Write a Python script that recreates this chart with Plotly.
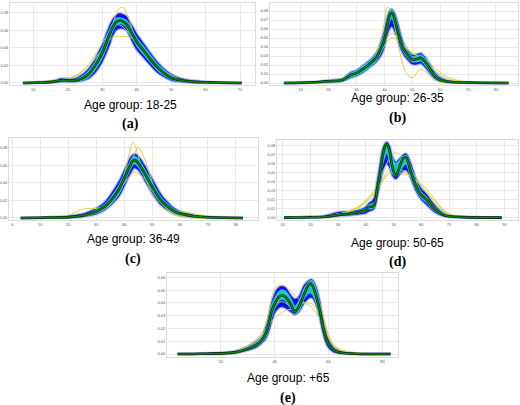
import plotly.graph_objects as go

# ---------------- data ----------------
# Panel (a) Age group 18-25
A_X = [7, 12, 16, 18, 20, 22, 24, 26, 28, 30, 32, 33, 34, 35, 36, 37, 38, 39, 40, 42, 44, 46, 48, 50, 53, 56, 60, 65, 70.5]
A_MEAN = [0, .0005, .0015, .003, .003, .003, .005, .010, .020, .034, .054, .063, .069, .071, .070, .067, .061, .054, .047, .037, .027, .018, .011, .006, .003, .0015, .0008, .0003, 0]
A_CYAN_LO = [0, .0003, .001, .002, .002, .002, .0035, .007, .016, .029, .049, .059, .066, .068, .067, .064, .057, .050, .043, .033, .024, .015, .009, .0045, .002, .001, .0005, .0002, 0]
A_CYAN_HI = [0, .0007, .002, .004, .004, .004, .007, .013, .024, .039, .059, .067, .073, .074, .073, .071, .065, .058, .051, .041, .031, .021, .014, .008, .004, .002, .0011, .0004, 0]
A_BLUE_LO = [0, .0002, .0007, .0015, .0015, .0015, .0025, .005, .012, .024, .042, .053, .060, .062, .062, .060, .053, .045, .038, .029, .020, .012, .007, .003, .0013, .0006, .0003, .0001, 0]
A_BLUE_HI = [0, .001, .0025, .005, .005, .005, .009, .016, .028, .044, .064, .072, .077, .079, .078, .076, .070, .063, .056, .045, .034, .024, .016, .010, .005, .0027, .0014, .0006, 0]
A_Y1 = [0, 0, .001, .002, .002, .003, .005, .009, .017, .030, .052, .066, .078, .085, .086, .080, .070, .058, .048, .034, .024, .016, .010, .006, .003, .001, .0005, 0, 0]
A_Y2 = [0, .001, .002, .003, .004, .007, .012, .019, .028, .038, .048, .052, .053, .053, .053, .053, .052, .050, .047, .039, .030, .021, .014, .009, .004, .002, .001, .0005, 0]
A_Y3 = [0, .001, .003, .004, .005, .008, .013, .021, .032, .045, .058, .063, .066, .066, .064, .060, .055, .050, .045, .036, .028, .020, .013, .008, .004, .002, .001, .0004, 0]

# Panel (b) Age group 26-35
B_X = [4, 10, 15, 20, 25, 28, 30, 33, 35, 37, 39, 40, 41, 42, 42.5, 43, 44, 45, 46, 47, 48, 50, 52, 53, 55, 57, 58, 60, 63, 70, 84.5]
B_MEAN = [0, .0003, .0008, .002, .0035, .009, .011, .017, .022, .028, .040, .048, .064, .076, .078, .077, .067, .055, .044, .037, .033, .026, .027, .028, .022, .0125, .008, .0035, .0015, .0005, 0]
B_CYAN_LO = [0, .0002, .0006, .0015, .0025, .007, .009, .014, .019, .025, .036, .044, .059, .070, .072, .071, .062, .051, .041, .034, .030, .024, .024, .025, .019, .010, .0065, .0028, .0011, .0003, 0]
B_CYAN_HI = [0, .0004, .001, .0025, .0045, .011, .013, .020, .025, .031, .044, .053, .069, .080, .081, .080, .072, .060, .048, .040, .036, .029, .030, .031, .025, .015, .010, .0045, .002, .0007, 0]
B_BLUE_LO = [0, .0001, .0005, .001, .002, .006, .008, .013, .018, .023, .032, .040, .053, .061, .063, .062, .055, .046, .037, .031, .027, .021, .021, .022, .016, .008, .005, .002, .001, .0002, 0]
B_BLUE_HI = [0, .0006, .0012, .003, .005, .012, .014, .021, .026, .033, .048, .058, .073, .081, .082, .081, .075, .064, .052, .043, .038, .031, .032, .033, .027, .017, .012, .006, .0025, .0008, 0]
B_Y1 = [0, 0, .0005, .002, .004, .008, .011, .018, .024, .032, .052, .068, .084, .082, .078, .072, .058, .042, .028, .017, .010, .006, .013, .0155, .012, .005, .003, .001, 0, 0, 0]
B_Y2 = [0, .0005, .001, .003, .005, .009, .012, .018, .023, .030, .040, .045, .050, .054, .055, .055, .053, .050, .046, .042, .039, .034, .030, .028, .023, .017, .014, .009, .004, .001, 0]
B_Y3 = [0, .0003, .001, .003, .005, .009, .011, .017, .021, .027, .036, .041, .046, .049, .050, .050, .049, .047, .044, .041, .038, .033, .030, .029, .026, .020, .017, .012, .006, .001, 0]

# Panel (c) Age group 36-49
C_X = [3, 10, 15, 20, 25, 28, 30, 33, 35, 38, 40, 42, 43, 43.5, 44, 45, 47, 50, 53, 55, 58, 60, 63, 65, 70, 82.5]
C_MEAN = [0, .0003, .0006, .001, .0027, .005, .0076, .013, .019, .032, .045, .059, .065, .066, .066, .063, .053, .036, .021, .0145, .0076, .005, .003, .002, .0008, 0]
C_CYAN_LO = [0, .0002, .0004, .0007, .002, .004, .006, .011, .016, .028, .041, .055, .061, .062, .062, .059, .049, .032, .018, .012, .006, .0038, .0022, .0014, .0005, 0]
C_CYAN_HI = [0, .0004, .0008, .0013, .0034, .006, .0092, .015, .022, .036, .049, .063, .069, .070, .070, .067, .057, .040, .024, .017, .0092, .0062, .0038, .0026, .0011, 0]
C_BLUE_LO = [0, .0001, .0003, .0005, .0015, .003, .0045, .009, .014, .024, .036, .049, .055, .057, .057, .055, .045, .028, .015, .010, .0045, .0028, .0015, .001, .0003, 0]
C_BLUE_HI = [0, .0005, .001, .002, .0045, .008, .011, .018, .026, .041, .054, .068, .072, .073, .073, .071, .062, .045, .028, .020, .011, .0075, .0048, .0032, .0014, 0]
C_Y1 = [0, 0, 0, .0005, .002, .004, .006, .011, .017, .032, .050, .075, .086, .085, .082, .072, .050, .028, .014, .009, .004, .002, .001, 0, 0, 0]
C_Y2 = [0, 0, .0003, .001, .002, .004, .006, .010, .015, .027, .040, .058, .068, .072, .076, .081, .070, .042, .019, .011, .005, .003, .0015, .001, 0, 0]
C_Y3 = [0, .0005, .001, .003, .010, .011, .011, .014, .019, .030, .039, .048, .051, .052, .052, .051, .046, .035, .023, .016, .009, .007, .006, .005, .001, 0]

# Panel (d) Age group 50-65
D_X = [10.5, 15, 20, 25, 30, 35, 38, 40, 41, 42, 43, 44, 45, 46, 47, 47.5, 48.5, 49.5, 50.8, 52, 53.5, 54.5, 56, 58, 60, 62, 64, 66, 68, 70, 75, 89]
D_MEAN = [0, .0002, .0004, .001, .003, .0048, .0067, .0085, .012, .012, .014, .031, .047, .068, .080, .082, .075, .057, .046, .055, .066, .067, .053, .036, .025, .0196, .012, .0067, .003, .0015, .0006, 0]
D_CYAN_LO = [0, .0001, .0003, .0008, .0025, .004, .0058, .0075, .010, .010, .012, .027, .042, .060, .070, .074, .064, .050, .046, .050, .058, .060, .048, .033, .022, .017, .010, .0055, .0025, .0012, .0005, 0]
D_CYAN_HI = [0, .0003, .0006, .0014, .004, .006, .008, .010, .014, .015, .017, .035, .052, .074, .082, .083, .078, .066, .060, .063, .068, .069, .058, .040, .028, .022, .014, .008, .004, .002, .0008, 0]
D_BLUE_LO = [0, .0001, .0002, .0005, .002, .003, .004, .005, .007, .008, .010, .022, .036, .050, .058, .060, .056, .047, .043, .047, .052, .053, .045, .030, .020, .014, .008, .004, .002, .001, .0003, 0]
D_BLUE_HI = [0, .0004, .001, .002, .006, .007, .009, .012, .016, .018, .022, .040, .058, .076, .083, .084, .080, .068, .062, .065, .070, .071, .062, .044, .032, .026, .017, .010, .005, .002, .001, 0]
D_Y1 = [0, .001, .002, .002, .004, .008, .013, .018, .022, .026, .031, .037, .043, .050, .057, .060, .066, .070, .072, .071, .066, .062, .055, .045, .035, .027, .019, .012, .007, .004, .001, 0]
D_Y2 = [0, .0005, .002, .002, .004, .008, .012, .017, .020, .023, .027, .032, .037, .042, .048, .050, .054, .055, .055, .054, .052, .050, .047, .041, .035, .028, .021, .014, .008, .004, .001, 0]
D_Y3 = [0, .0003, .001, .002, .004, .009, .014, .020, .023, .025, .028, .031, .035, .040, .045, .047, .049, .050, .050, .050, .049, .048, .046, .042, .037, .031, .024, .016, .009, .004, .001, 0]

# Panel (e) Age group +65
E_X = [4, 10, 15, 20, 25, 30, 33, 35, 37, 39, 40, 41, 42.5, 44, 46, 47.5, 49, 51, 53, 54, 55.5, 57, 58, 59, 60, 62, 65, 70, 83]
E_MEAN = [0, .0001, .0003, .0005, .0013, .004, .007, .0104, .0174, .034, .039, .043, .046, .0447, .039, .033, .037, .047, .055, .054, .0447, .032, .021, .0135, .0078, .003, .001, .0003, 0]
E_CYAN_LO = [0, .0001, .0002, .0004, .001, .0033, .006, .009, .015, .030, .036, .040, .043, .042, .036, .032, .034, .044, .048, .047, .040, .029, .019, .012, .0068, .0025, .0008, .0002, 0]
E_CYAN_HI = [0, .0002, .0004, .0007, .0016, .0048, .008, .012, .020, .038, .043, .047, .050, .049, .043, .037, .041, .051, .057, .057, .050, .035, .024, .015, .009, .0036, .0013, .0004, 0]
E_BLUE_LO = [0, 0, .0001, .0002, .0008, .003, .005, .008, .013, .026, .032, .035, .037, .036, .033, .031, .033, .040, .044, .044, .038, .026, .016, .009, .005, .0015, .0004, .0001, 0]
E_BLUE_HI = [0, .0003, .0006, .001, .002, .006, .010, .014, .023, .041, .047, .051, .053, .052, .046, .043, .045, .054, .058, .058, .052, .039, .027, .018, .011, .005, .002, .0005, 0]
E_Y1 = [0, 0, .0003, .0006, .0015, .004, .008, .014, .026, .045, .051, .053, .054, .053, .049, .046, .043, .040, .038, .036, .032, .027, .022, .017, .013, .007, .003, .001, 0]
E_Y2 = [0, 0, .0003, .0007, .002, .006, .010, .014, .020, .026, .028, .030, .032, .034, .035, .036, .038, .040, .040, .039, .036, .030, .025, .020, .015, .007, .002, .0005, 0]
E_Y3 = [0, .0001, .0004, .0008, .002, .005, .009, .013, .020, .032, .036, .039, .041, .040, .037, .034, .038, .046, .050, .050, .046, .038, .030, .022, .015, .006, .002, .0005, 0]

TITLES = ["Age group: 18-25", "Age group: 26-35", "Age group: 36-49", "Age group: 50-65", "Age group: +65"]
LABELS = ["(a)", "(b)", "(c)", "(d)", "(e)"]
X_TICKS = [[10, 20, 30, 40, 50, 60, 70],
           [10, 20, 30, 40, 50, 60, 70, 80],
           [0, 10, 20, 30, 40, 50, 60, 70, 80],
           [10, 20, 30, 40, 50, 60, 70, 80, 90],
           [20, 40, 60, 80]]
Y_TICKS = [[0, 0.02, 0.04, 0.06, 0.08],
           [0, 0.01, 0.02, 0.03, 0.04, 0.05, 0.06, 0.07, 0.08],
           [0, 0.02, 0.04, 0.06, 0.08],
           [0, 0.01, 0.02, 0.03, 0.04, 0.05, 0.06, 0.07, 0.08],
           [0, 0.01, 0.02, 0.03, 0.04, 0.05, 0.06]]

# ---------------- layout geometry (pixels) ----------------
W, H = 520, 405
BOXES = [(10, 255, 3, 85), (270, 518, 3, 85), (9, 258, 138, 220), (277, 518, 140, 220), (167, 398, 273, 357)]
XR = [(3.24, 74.35), (-1.0, 87.9), (-1.2, 87.9), (7.9, 94.9), (0.06, 85.8)]
YR = [(-0.0023, 0.091), (-0.0022, 0.0889), (-0.0023, 0.0914), (-0.0026, 0.0863), (-0.0023, 0.0634)]
TPOS = [(130, 105, 124), (397, 98, 118), (133, 239, 259), (397, 243, 262), (288, 378, 398)]

DATA = [
    (A_X, A_MEAN, A_CYAN_LO, A_CYAN_HI, A_BLUE_LO, A_BLUE_HI, [A_Y1, A_Y2, A_Y3]),
    (B_X, B_MEAN, B_CYAN_LO, B_CYAN_HI, B_BLUE_LO, B_BLUE_HI, [B_Y1, B_Y2, B_Y3]),
    (C_X, C_MEAN, C_CYAN_LO, C_CYAN_HI, C_BLUE_LO, C_BLUE_HI, [C_Y1, C_Y2, C_Y3]),
    (D_X, D_MEAN, D_CYAN_LO, D_CYAN_HI, D_BLUE_LO, D_BLUE_HI, [D_Y1, D_Y2, D_Y3]),
    (E_X, E_MEAN, E_CYAN_LO, E_CYAN_HI, E_BLUE_LO, E_BLUE_HI, [E_Y1, E_Y2, E_Y3]),
]

SM = 0.9
fig = go.Figure()


def sc(x, y, ax, ay, color, width, fill=None, fillcolor=None):
    return go.Scatter(x=x, y=y, mode="lines", xaxis=ax, yaxis=ay, hoverinfo="skip", showlegend=False,
                      line=dict(color=color, width=width, shape="spline", smoothing=SM),
                      fill=fill, fillcolor=fillcolor)


layout = {}
annotations = []
for i, (x, mean, clo, chi, blo, bhi, yels) in enumerate(DATA):
    n = "" if i == 0 else str(i + 1)
    ax, ay = "x" + n, "y" + n
    # lavender fringe of individual curves
    fig.add_trace(sc(x, blo, ax, ay, "rgba(120,120,255,0.45)", 3.0))
    fig.add_trace(sc(x, bhi, ax, ay, "rgba(120,120,255,0.45)", 3.0))
    # dense blue band
    fig.add_trace(sc(x, blo, ax, ay, "#2020f0", 0.7))
    fig.add_trace(sc(x, bhi, ax, ay, "#2020f0", 0.7, fill="tonexty", fillcolor="#1010ee"))
    # yellow curves
    for yv in yels:
        fig.add_trace(sc(x, yv, ax, ay, "rgb(222,208,70)", 1.0))
    # cyan band (with soft edges)
    fig.add_trace(sc(x, clo, ax, ay, "#20c8c8", 1.6))
    fig.add_trace(sc(x, chi, ax, ay, "#20c8c8", 1.6, fill="tonexty", fillcolor="#18c6c6"))
    # mean line with dark outline
    fig.add_trace(sc(x, mean, ax, ay, "#0a200a", 2.6))
    fig.add_trace(sc(x, mean, ax, ay, "#0a8c0a", 1.3))

    l, r, t, b = BOXES[i]
    common = dict(showgrid=True, gridcolor="#e9e9e9", gridwidth=1, zeroline=False,
                  showline=True, linecolor="#dcdcdc", linewidth=1, mirror=True, ticks="",
                  tickfont=dict(size=4, color="#555555", family="Liberation Sans"))
    layout["xaxis" + n] = dict(domain=[l / W, r / W], range=list(XR[i]), anchor=ay,
                               tickvals=X_TICKS[i], **common)
    layout["yaxis" + n] = dict(domain=[1 - b / H, 1 - t / H], range=list(YR[i]), anchor=ax,
                               tickvals=Y_TICKS[i], tickformat=".2f", **common)
    cx, ty, ly = TPOS[i]
    annotations.append(dict(x=cx / W, y=1 - ty / H, xref="paper", yref="paper", text=TITLES[i],
                            showarrow=False, xanchor="center", yanchor="middle",
                            font=dict(size=12, color="black", family="Liberation Sans")))
    annotations.append(dict(x=cx / W, y=1 - ly / H, xref="paper", yref="paper", text="<b>" + LABELS[i] + "</b>",
                            showarrow=False, xanchor="center", yanchor="middle",
                            font=dict(size=14, color="black", family="Liberation Serif")))

fig.update_layout(width=W, height=H, margin=dict(l=0, r=0, t=0, b=0), paper_bgcolor="white",
                  plot_bgcolor="white", annotations=annotations, **layout)
fig.write_html("out.html")
